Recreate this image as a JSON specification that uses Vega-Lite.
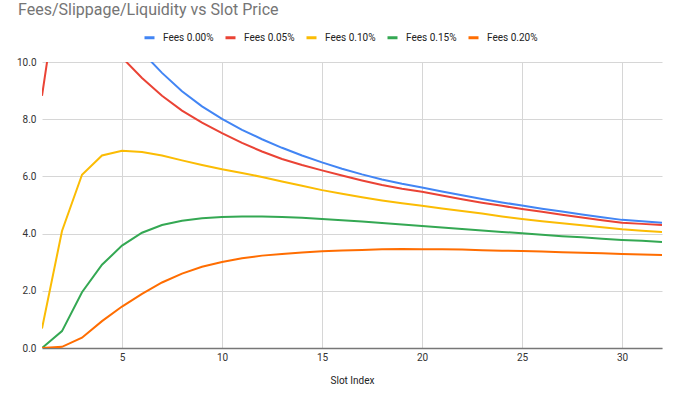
{
  "$schema": "https://vega.github.io/schema/vega-lite/v6.json",
  "width": 620,
  "height": 286,
  "autosize": {"type": "none"},
  "padding": {"left": 42, "top": 62, "right": 28, "bottom": 47},
  "background": "white",
  "title": {
    "text": "Fees/Slippage/Liquidity vs Slot Price",
    "anchor": "start",
    "frame": "group",
    "dx": -24,
    "dy": 15,
    "font": "Roboto",
    "fontSize": 16,
    "fontWeight": "normal",
    "color": "#757575",
    "baseline": "alphabetic",
    "offset": 15
  },
  "config": {
    "view": {"stroke": null},
    "axis": {"labelFont": "Roboto", "titleFont": "Roboto"}
  },
  "data": {
    "values": [
      {"x":1,"s":"Fees 0.00%","y":25.0},{"x":2,"s":"Fees 0.00%","y":17.9},{"x":3,"s":"Fees 0.00%","y":14.6},{"x":4,"s":"Fees 0.00%","y":12.6},{"x":5,"s":"Fees 0.00%","y":11.3},{"x":6,"s":"Fees 0.00%","y":10.35},{"x":7,"s":"Fees 0.00%","y":9.62},{"x":8,"s":"Fees 0.00%","y":8.98},{"x":9,"s":"Fees 0.00%","y":8.45},{"x":10,"s":"Fees 0.00%","y":8.01},{"x":11,"s":"Fees 0.00%","y":7.63},{"x":12,"s":"Fees 0.00%","y":7.30},{"x":13,"s":"Fees 0.00%","y":7.00},{"x":14,"s":"Fees 0.00%","y":6.73},{"x":15,"s":"Fees 0.00%","y":6.49},{"x":16,"s":"Fees 0.00%","y":6.27},{"x":17,"s":"Fees 0.00%","y":6.07},{"x":18,"s":"Fees 0.00%","y":5.89},{"x":19,"s":"Fees 0.00%","y":5.74},{"x":20,"s":"Fees 0.00%","y":5.61},{"x":21,"s":"Fees 0.00%","y":5.47},{"x":22,"s":"Fees 0.00%","y":5.34},{"x":23,"s":"Fees 0.00%","y":5.21},{"x":24,"s":"Fees 0.00%","y":5.09},{"x":25,"s":"Fees 0.00%","y":4.98},{"x":26,"s":"Fees 0.00%","y":4.87},{"x":27,"s":"Fees 0.00%","y":4.77},{"x":28,"s":"Fees 0.00%","y":4.67},{"x":29,"s":"Fees 0.00%","y":4.57},{"x":30,"s":"Fees 0.00%","y":4.48},{"x":31,"s":"Fees 0.00%","y":4.43},{"x":32,"s":"Fees 0.00%","y":4.38},
      {"x":1,"s":"Fees 0.05%","y":8.82},{"x":2,"s":"Fees 0.05%","y":13.5},{"x":3,"s":"Fees 0.05%","y":12.8},{"x":4,"s":"Fees 0.05%","y":11.4},{"x":5,"s":"Fees 0.05%","y":10.16},{"x":6,"s":"Fees 0.05%","y":9.44},{"x":7,"s":"Fees 0.05%","y":8.82},{"x":8,"s":"Fees 0.05%","y":8.30},{"x":9,"s":"Fees 0.05%","y":7.88},{"x":10,"s":"Fees 0.05%","y":7.51},{"x":11,"s":"Fees 0.05%","y":7.17},{"x":12,"s":"Fees 0.05%","y":6.87},{"x":13,"s":"Fees 0.05%","y":6.61},{"x":14,"s":"Fees 0.05%","y":6.40},{"x":15,"s":"Fees 0.05%","y":6.21},{"x":16,"s":"Fees 0.05%","y":6.03},{"x":17,"s":"Fees 0.05%","y":5.86},{"x":18,"s":"Fees 0.05%","y":5.70},{"x":19,"s":"Fees 0.05%","y":5.57},{"x":20,"s":"Fees 0.05%","y":5.46},{"x":21,"s":"Fees 0.05%","y":5.33},{"x":22,"s":"Fees 0.05%","y":5.20},{"x":23,"s":"Fees 0.05%","y":5.08},{"x":24,"s":"Fees 0.05%","y":4.97},{"x":25,"s":"Fees 0.05%","y":4.86},{"x":26,"s":"Fees 0.05%","y":4.76},{"x":27,"s":"Fees 0.05%","y":4.66},{"x":28,"s":"Fees 0.05%","y":4.56},{"x":29,"s":"Fees 0.05%","y":4.47},{"x":30,"s":"Fees 0.05%","y":4.38},{"x":31,"s":"Fees 0.05%","y":4.34},{"x":32,"s":"Fees 0.05%","y":4.30},
      {"x":1,"s":"Fees 0.10%","y":0.68},{"x":2,"s":"Fees 0.10%","y":4.09},{"x":3,"s":"Fees 0.10%","y":6.06},{"x":4,"s":"Fees 0.10%","y":6.73},{"x":5,"s":"Fees 0.10%","y":6.90},{"x":6,"s":"Fees 0.10%","y":6.85},{"x":7,"s":"Fees 0.10%","y":6.73},{"x":8,"s":"Fees 0.10%","y":6.56},{"x":9,"s":"Fees 0.10%","y":6.40},{"x":10,"s":"Fees 0.10%","y":6.25},{"x":11,"s":"Fees 0.10%","y":6.12},{"x":12,"s":"Fees 0.10%","y":5.98},{"x":13,"s":"Fees 0.10%","y":5.82},{"x":14,"s":"Fees 0.10%","y":5.67},{"x":15,"s":"Fees 0.10%","y":5.52},{"x":16,"s":"Fees 0.10%","y":5.39},{"x":17,"s":"Fees 0.10%","y":5.27},{"x":18,"s":"Fees 0.10%","y":5.16},{"x":19,"s":"Fees 0.10%","y":5.06},{"x":20,"s":"Fees 0.10%","y":4.97},{"x":21,"s":"Fees 0.10%","y":4.88},{"x":22,"s":"Fees 0.10%","y":4.79},{"x":23,"s":"Fees 0.10%","y":4.70},{"x":24,"s":"Fees 0.10%","y":4.60},{"x":25,"s":"Fees 0.10%","y":4.51},{"x":26,"s":"Fees 0.10%","y":4.43},{"x":27,"s":"Fees 0.10%","y":4.36},{"x":28,"s":"Fees 0.10%","y":4.29},{"x":29,"s":"Fees 0.10%","y":4.22},{"x":30,"s":"Fees 0.10%","y":4.15},{"x":31,"s":"Fees 0.10%","y":4.10},{"x":32,"s":"Fees 0.10%","y":4.06},
      {"x":1,"s":"Fees 0.15%","y":0},{"x":2,"s":"Fees 0.15%","y":0.59},{"x":3,"s":"Fees 0.15%","y":1.95},{"x":4,"s":"Fees 0.15%","y":2.91},{"x":5,"s":"Fees 0.15%","y":3.58},{"x":6,"s":"Fees 0.15%","y":4.03},{"x":7,"s":"Fees 0.15%","y":4.30},{"x":8,"s":"Fees 0.15%","y":4.45},{"x":9,"s":"Fees 0.15%","y":4.54},{"x":10,"s":"Fees 0.15%","y":4.58},{"x":11,"s":"Fees 0.15%","y":4.60},{"x":12,"s":"Fees 0.15%","y":4.60},{"x":13,"s":"Fees 0.15%","y":4.58},{"x":14,"s":"Fees 0.15%","y":4.55},{"x":15,"s":"Fees 0.15%","y":4.51},{"x":16,"s":"Fees 0.15%","y":4.47},{"x":17,"s":"Fees 0.15%","y":4.42},{"x":18,"s":"Fees 0.15%","y":4.37},{"x":19,"s":"Fees 0.15%","y":4.32},{"x":20,"s":"Fees 0.15%","y":4.27},{"x":21,"s":"Fees 0.15%","y":4.21},{"x":22,"s":"Fees 0.15%","y":4.16},{"x":23,"s":"Fees 0.15%","y":4.11},{"x":24,"s":"Fees 0.15%","y":4.06},{"x":25,"s":"Fees 0.15%","y":4.01},{"x":26,"s":"Fees 0.15%","y":3.96},{"x":27,"s":"Fees 0.15%","y":3.91},{"x":28,"s":"Fees 0.15%","y":3.87},{"x":29,"s":"Fees 0.15%","y":3.82},{"x":30,"s":"Fees 0.15%","y":3.78},{"x":31,"s":"Fees 0.15%","y":3.75},{"x":32,"s":"Fees 0.15%","y":3.71},
      {"x":1,"s":"Fees 0.20%","y":0},{"x":2,"s":"Fees 0.20%","y":0.04},{"x":3,"s":"Fees 0.20%","y":0.36},{"x":4,"s":"Fees 0.20%","y":0.94},{"x":5,"s":"Fees 0.20%","y":1.45},{"x":6,"s":"Fees 0.20%","y":1.89},{"x":7,"s":"Fees 0.20%","y":2.29},{"x":8,"s":"Fees 0.20%","y":2.60},{"x":9,"s":"Fees 0.20%","y":2.84},{"x":10,"s":"Fees 0.20%","y":3.01},{"x":11,"s":"Fees 0.20%","y":3.14},{"x":12,"s":"Fees 0.20%","y":3.23},{"x":13,"s":"Fees 0.20%","y":3.29},{"x":14,"s":"Fees 0.20%","y":3.34},{"x":15,"s":"Fees 0.20%","y":3.38},{"x":16,"s":"Fees 0.20%","y":3.41},{"x":17,"s":"Fees 0.20%","y":3.43},{"x":18,"s":"Fees 0.20%","y":3.45},{"x":19,"s":"Fees 0.20%","y":3.46},{"x":20,"s":"Fees 0.20%","y":3.45},{"x":21,"s":"Fees 0.20%","y":3.45},{"x":22,"s":"Fees 0.20%","y":3.44},{"x":23,"s":"Fees 0.20%","y":3.42},{"x":24,"s":"Fees 0.20%","y":3.40},{"x":25,"s":"Fees 0.20%","y":3.39},{"x":26,"s":"Fees 0.20%","y":3.37},{"x":27,"s":"Fees 0.20%","y":3.35},{"x":28,"s":"Fees 0.20%","y":3.33},{"x":29,"s":"Fees 0.20%","y":3.31},{"x":30,"s":"Fees 0.20%","y":3.29},{"x":31,"s":"Fees 0.20%","y":3.27},{"x":32,"s":"Fees 0.20%","y":3.25}
    ]
  },
  "mark": {"type": "line", "strokeWidth": 2, "clip": true},
  "encoding": {
    "x": {
      "field": "x",
      "type": "quantitative",
      "scale": {"domain": [1, 32], "nice": false, "zero": false},
      "axis": {
        "title": "Slot Index",
        "values": [5, 10, 15, 20, 25, 30],
        "ticks": false,
        "domain": true,
        "domainColor": "#777777",
        "domainWidth": 1.5,
        "gridColor": "#d6d6d6",
        "labelFontSize": 10,
        "labelColor": "#333333",
        "labelPadding": 4,
        "titleFontSize": 10,
        "titleFontWeight": "normal",
        "titleColor": "#222222",
        "titlePadding": 13
      }
    },
    "y": {
      "field": "y",
      "type": "quantitative",
      "scale": {"domain": [0, 10], "nice": false},
      "axis": {
        "title": null,
        "values": [0, 2, 4, 6, 8, 10],
        "format": ".1f",
        "ticks": false,
        "domain": false,
        "gridColor": "#d6d6d6",
        "labelFontSize": 10,
        "labelColor": "#333333",
        "labelPadding": 6
      }
    },
    "color": {
      "field": "s",
      "type": "nominal",
      "scale": {
        "domain": ["Fees 0.00%", "Fees 0.05%", "Fees 0.10%", "Fees 0.15%", "Fees 0.20%"],
        "range": ["#4285F4", "#EA4335", "#FBBC04", "#34A853", "#FF6D01"]
      },
      "legend": {
        "orient": "none",
        "legendX": 101,
        "legendY": -31,
        "direction": "horizontal",
        "title": null,
        "symbolType": "stroke",
        "symbolSize": 100,
        "symbolStrokeWidth": 3,
        "labelFont": "Roboto",
        "labelFontSize": 10,
        "labelColor": "#222222",
        "labelOffset": 7,
        "columnPadding": 5
      }
    }
  }
}
